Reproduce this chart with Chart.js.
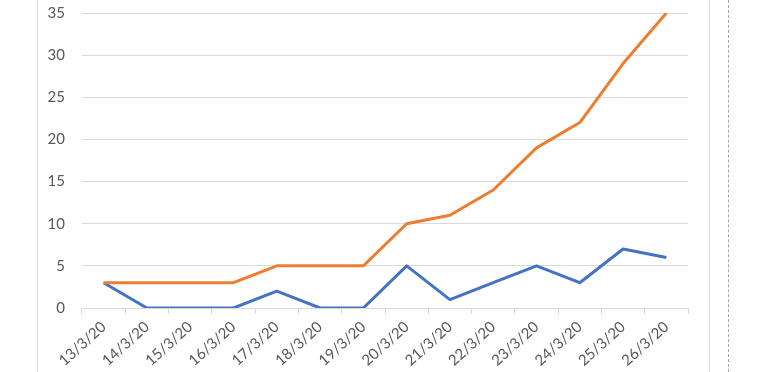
<!DOCTYPE html>
<html>
<head>
<meta charset="utf-8">
<script src="https://cdn.jsdelivr.net/npm/chart.js@4"></script>
<style>
  html, body { margin: 0; padding: 0; background: #fff; }
  #wrap { position: relative; width: 761px; height: 372px; }
  #lineL { position: absolute; left: 37px; top: 0; width: 0; height: 372px; border-left: 1px solid #d9d9d9; }
  #lineR { position: absolute; left: 709px; top: 0; width: 0; height: 372px; border-left: 1px solid #d9d9d9; }
  #dash { position: absolute; left: 728px; top: 0; width: 0; height: 372px; border-left: 1px dashed #a6a6a6; }
</style>
</head>
<body>
<div id="wrap">
  <canvas id="chart" width="761" height="372"></canvas>
  <div id="lineL"></div>
  <div id="lineR"></div>
  <div id="dash"></div>
</div>
<script>
const dates = ['13/3/20', '14/3/20', '15/3/20', '16/3/20', '17/3/20', '18/3/20', '19/3/20',
  '20/3/20', '21/3/20', '22/3/20', '23/3/20', '24/3/20', '25/3/20', '26/3/20'];
const blueValues = [3, 0, 0, 0, 2, 0, 0, 5, 1, 3, 5, 3, 7, 6];
const orangeValues = [3, 3, 3, 3, 5, 5, 5, 10, 11, 14, 19, 22, 29, 35];

Chart.defaults.font.family = 'Lato, "Open Sans", sans-serif';
Chart.defaults.font.size = 15;
Chart.defaults.color = '#595959';

new Chart(document.getElementById('chart'), {
  type: 'line',
  data: {
    labels: dates,
    datasets: [
      {
        label: 'Series 2',
        data: orangeValues,
        borderColor: '#ED7D31',
        borderWidth: 3,
        pointRadius: 0,
        tension: 0,
        borderJoinStyle: 'round'
      },
      {
        label: 'Series 1',
        data: blueValues,
        borderColor: '#4472C4',
        borderWidth: 3,
        pointRadius: 0,
        tension: 0,
        borderJoinStyle: 'round'
      }
    ]
  },
  options: {
    responsive: false,
    animation: false,
    layout: { padding: { left: 0, right: 73, top: 13, bottom: 0 } },
    plugins: {
      legend: { display: false },
      tooltip: { enabled: false }
    },
    scales: {
      x: {
        offset: true,
        grid: {
          offset: true,
          drawOnChartArea: false,
          color: '#d9d9d9',
          tickLength: 6
        },
        border: { color: '#d9d9d9' },
        ticks: { minRotation: 42, maxRotation: 42, padding: 4 },
        afterFit: axis => { axis.height = 64; }
      },
      y: {
        min: 0,
        max: 35,
        ticks: { stepSize: 5, padding: 0 },
        // invisible tick marks keep the labels 17px left of the plot
        grid: { color: '#d9d9d9', tickColor: 'rgba(0,0,0,0)', tickLength: 17 },
        border: { display: false },
        afterFit: axis => { axis.width = 82; }
      }
    }
  }
});
</script>
</body>
</html>
